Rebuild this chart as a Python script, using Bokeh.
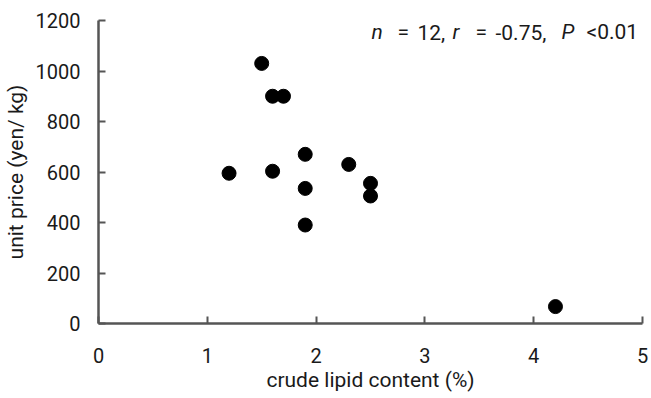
from bokeh.plotting import figure
from bokeh.models import Range1d, FixedTicker, Label
from bokeh.embed import file_html
from bokeh.resources import INLINE

lipid = [1.2, 1.5, 1.6, 1.7, 1.6, 1.9, 1.9, 1.9, 2.3, 2.5, 2.5, 4.2]
price = [595, 1030, 900, 900, 603, 670, 535, 390, 630, 555, 505, 67]
x_ticks = [0, 1, 2, 3, 4, 5]
y_ticks = [0, 200, 400, 600, 800, 1000, 1200]

FONT = "Roboto"
TXT = "#1a1a1a"
AX = "#555555"

p = figure(width=650, height=396, output_backend="svg", toolbar_location=None,
           x_range=Range1d(0, 5), y_range=Range1d(0, 1200),
           min_border_left=98, min_border_right=8, min_border_top=20, min_border_bottom=73)
p.outline_line_color = None
p.xgrid.visible = False
p.ygrid.visible = False

p.scatter(lipid, price, size=14, color="black")

for ax, ticks in ((p.xaxis[0], x_ticks), (p.yaxis[0], y_ticks)):
    ax.ticker = FixedTicker(ticks=ticks)
    ax.minor_tick_line_color = None
    ax.major_tick_in = 7
    ax.major_tick_out = 0
    ax.axis_line_color = AX
    ax.axis_line_width = 2.5
    ax.major_tick_line_color = AX
    ax.major_tick_line_width = 2
    ax.major_label_text_font = FONT
    ax.major_label_text_font_size = "20px"
    ax.major_label_text_color = TXT
    ax.axis_label_text_font = FONT
    ax.axis_label_text_font_size = "21px"
    ax.axis_label_text_font_style = "normal"
    ax.axis_label_text_color = TXT

p.xaxis.axis_label = "crude lipid content (%)"
p.yaxis.axis_label = "unit price (yen/ kg)"
p.xaxis.major_label_standoff = 24
p.xaxis.axis_label_standoff = 2
p.yaxis.major_label_standoff = 18
p.yaxis.axis_label_standoff = 5

# statistics annotation, token by token (italic symbols)
tokens = [("n", "italic", 371), ("=", "normal", 397), ("12,", "normal", 417),
          ("r", "italic", 452), ("=", "normal", 475), ("-0.75,", "normal", 495),
          ("P", "italic", 561), ("<0.01", "normal", 586)]
for txt, style, px in tokens:
    p.add_layout(Label(x=(px - 98) / 108.8, y=(323 - 31.5) / 0.2525, text=txt,
                       text_font=FONT, text_font_size="21px", text_font_style=style,
                       text_color=TXT, text_baseline="alphabetic", text_align="left"))

open("out.html", "w").write(file_html(p, INLINE))
